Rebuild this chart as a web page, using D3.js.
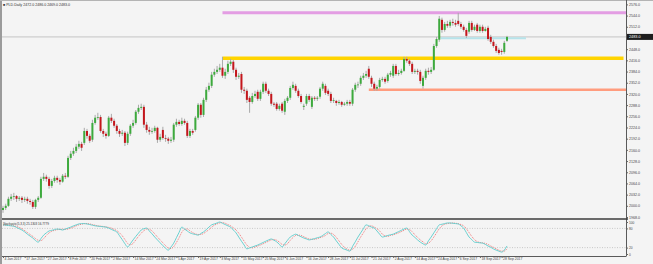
<!DOCTYPE html>
<html>
<head>
<meta charset="utf-8">
<script src="https://cdn.jsdelivr.net/npm/d3@7"></script>
<style>
  html, body { margin: 0; padding: 0; background: #f4f4f4; }
  svg { display: block; }
  text { font-family: "Liberation Sans", Arial, sans-serif; }
</style>
</head>
<body>
<script>
// Data (daily candles, 4 Jan 2017 - end of Sep 2017)
const symbol = 'PLD.Daily'
const opens = [1988,1994,2000,2020,2026,2028,2020,2023,2017,2020,
  2014,2011,1997,2017,2023,2077,2083,2077,2057,2071,
  2080,2074,2069,2086,2083,2137,2149,2157,2169,2177,
  2180,2214,2200,2189,2237,2252,2254,2214,2206,2200,
  2252,2243,2229,2214,2206,2209,2180,2206,2229,2237,
  2269,2280,2283,2232,2217,2212,2214,2223,2189,2217,
  2194,2192,2186,2189,2232,2240,2234,2243,2237,2200,
  2214,2217,2252,2289,2260,2303,2332,2343,2375,2383,
  2389,2395,2372,2383,2406,2412,2389,2369,2377,2332,
  2329,2309,2297,2314,2326,2306,2326,2349,2329,2320,
  2292,2292,2277,2292,2269,2300,2309,2337,2343,2329,
  2314,2283,2292,2314,2283,2309,2306,2312,2335,2343,
  2329,2320,2300,2300,2294,2297,2289,2292,2297,2292,
  2332,2346,2349,2366,2372,2392,2366,2349,2335,2340,
  2360,2363,2357,2375,2372,2400,2377,2380,2386,2420,
  2415,2406,2383,2386,2383,2343,2366,2386,2383,2389,
  2457,2475,2532,2503,2520,2515,2526,2523,2529,2520,
  2512,2503,2498,2523,2503,2518,2500,2512,2500,2509,
  2483,2469,2457,2446,2443,2440,2472]
const highs = [2000,2006,2026,2034,2037,2031,2028,2028,2026,2026,
  2020,2017,2020,2028,2083,2094,2089,2083,2077,2086,
  2086,2080,2091,2094,2143,2157,2166,2177,2186,2183,
  2223,2220,2206,2246,2260,2266,2260,2220,2212,2257,
  2263,2249,2234,2220,2217,2214,2212,2234,2246,2274,
  2289,2292,2289,2240,2226,2223,2229,2226,2206,2226,
  2203,2197,2197,2237,2249,2246,2252,2249,2243,2220,
  2220,2257,2294,2294,2309,2340,2352,2383,2392,2400,
  2406,2426,2392,2415,2420,2417,2395,2380,2383,2340,
  2335,2314,2323,2329,2332,2332,2355,2355,2335,2326,
  2297,2297,2292,2297,2306,2314,2343,2355,2349,2335,
  2320,2292,2320,2320,2314,2314,2314,2340,2355,2349,
  2335,2326,2309,2303,2303,2300,2297,2303,2303,2337,
  2352,2355,2372,2380,2386,2400,2372,2355,2346,2366,
  2369,2369,2380,2386,2406,2406,2389,2392,2426,2426,
  2420,2412,2392,2392,2389,2372,2392,2395,2397,2463,
  2483,2543,2538,2526,2529,2532,2535,2532,2552,2526,
  2518,2509,2529,2529,2518,2523,2518,2518,2512,2515,
  2489,2475,2463,2452,2449,2472,2486]
const lows = [1980,1988,1997,2014,2017,2011,2014,2008,2011,2006,
  2003,1991,1991,2011,2020,2071,2069,2049,2051,2066,
  2066,2060,2066,2077,2080,2131,2143,2151,2163,2157,
  2174,2192,2180,2183,2232,2246,2209,2197,2192,2197,
  2237,2223,2206,2197,2200,2171,2174,2200,2223,2232,
  2263,2274,2223,2209,2203,2206,2209,2180,2183,2189,
  2183,2177,2180,2183,2226,2229,2229,2232,2194,2194,
  2203,2212,2246,2252,2254,2297,2326,2337,2369,2377,
  2383,2366,2363,2377,2400,2380,2360,2363,2323,2320,
  2294,2266,2292,2309,2300,2300,2320,2323,2314,2286,
  2283,2272,2272,2266,2260,2294,2303,2332,2323,2309,
  2292,2274,2286,2297,2277,2300,2300,2306,2329,2317,
  2314,2294,2294,2286,2289,2283,2286,2286,2286,2286,
  2326,2337,2343,2360,2366,2363,2340,2329,2329,2335,
  2355,2349,2352,2369,2366,2372,2372,2375,2383,2409,
  2400,2377,2377,2375,2349,2335,2360,2375,2377,2386,
  2452,2469,2495,2498,2509,2509,2515,2512,2515,2506,
  2498,2480,2492,2498,2500,2495,2495,2495,2498,2472,
  2463,2452,2437,2432,2432,2435,2469]
const closes = [1994,2000,2020,2026,2028,2020,2023,2017,2020,2014,
  2011,1997,2017,2023,2077,2083,2077,2057,2071,2080,
  2074,2069,2086,2083,2137,2149,2157,2169,2177,2166,
  2214,2200,2186,2237,2252,2254,2214,2206,2200,2252,
  2243,2229,2214,2206,2209,2180,2206,2229,2237,2269,
  2280,2283,2232,2217,2212,2214,2223,2189,2197,2194,
  2192,2186,2189,2232,2240,2234,2243,2237,2200,2214,
  2209,2252,2289,2260,2303,2332,2343,2375,2383,2389,
  2395,2372,2383,2406,2412,2389,2369,2372,2332,2329,
  2303,2297,2314,2320,2306,2326,2349,2329,2320,2292,
  2289,2277,2286,2272,2300,2309,2337,2346,2329,2314,
  2297,2286,2314,2303,2309,2306,2309,2335,2349,2323,
  2320,2300,2302,2294,2297,2289,2292,2297,2292,2332,
  2346,2347,2366,2372,2377,2369,2349,2335,2340,2360,
  2363,2355,2375,2380,2400,2377,2380,2386,2420,2415,
  2406,2383,2386,2383,2357,2366,2386,2383,2389,2457,
  2477,2535,2503,2520,2515,2526,2523,2518,2520,2512,
  2503,2486,2523,2503,2512,2500,2512,2500,2506,2477,
  2469,2457,2443,2437,2440,2466,2483]

const stochMain = [91,90,89,88,87,83,79,75,69,62,
  56,50,42,37,48,59,66,72,74,76,
  78,77,75,78,81,84,88,91,94,95,
  95,94,92,90,88,87,86,85,84,81,
  77,73,69,57,45,32,22,32,44,55,
  65,75,79,81,72,63,53,44,35,26,
  18,12,22,34,51,68,84,78,72,66,
  63,61,59,64,69,76,84,91,94,97,
  100,96,92,88,84,75,66,53,40,28,
  16,19,22,25,28,32,36,40,44,47,
  43,38,30,22,32,43,53,58,62,58,
  54,50,47,44,46,48,51,53,58,64,
  69,61,53,41,30,19,15,12,9,24,
  38,53,66,79,91,88,84,81,72,62,
  53,55,58,60,62,66,70,74,78,81,
  70,59,52,44,37,32,28,41,53,66,
  79,91,93,95,97,97,96,95,94,88,
  81,67,53,45,37,36,35,34,30,25,
  21,16,12,9,6,12,25.1303]
const stochSignal = [90,90,90,89,88,86,83,79,73,67,
  61,55,48,43,42,48,58,66,71,74,
  76,77,77,77,78,81,84,88,91,93,
  95,95,94,92,90,88,87,86,85,83,
  81,77,73,66,57,45,33,29,33,44,
  55,65,73,78,77,72,63,53,44,35,
  26,19,17,23,36,51,68,77,78,72,
  67,63,61,61,64,70,76,84,90,94,
  97,98,96,92,88,82,75,65,53,40,
  28,21,19,22,25,28,32,36,40,44,
  45,43,37,30,28,32,43,51,58,59,
  58,54,50,47,46,46,48,51,54,58,
  64,65,61,52,41,30,21,15,12,15,
  24,38,53,66,79,86,88,84,79,72,
  62,57,55,58,60,63,66,70,74,78,
  76,70,60,52,44,38,32,34,41,53,
  66,79,88,93,95,96,97,96,95,92,
  88,79,67,55,45,39,36,35,33,30,
  25,21,16,12,9,9,16.7779]

// Axis labels
const priceTicks = [1968,2000,2032,2064,2096,2128,2160,2192,2224,2256,
  2288,2320,2352,2384,2416,2448,2480,2512,2544,2576]
const dateLabels = ['4 Jan 2017','17 Jan 2017','27 Jan 2017','8 Feb 2017','20 Feb 2017',
  '2 Mar 2017','14 Mar 2017','24 Mar 2017','5 Apr 2017','19 Apr 2017','3 May 2017',
  '15 May 2017','25 May 2017','6 Jun 2017','16 Jun 2017','28 Jun 2017','11 Jul 2017',
  '21 Jul 2017','2 Aug 2017','14 Aug 2017','24 Aug 2017','6 Sep 2017','18 Sep 2017','28 Sep 2017']
const stochTicks = [100, 80, 20, 0]
const stochLevels = [80, 20]

// Horizontal levels drawn on the chart (price, from bar, to bar)
const levelPrices = [2552, 2479, 2422, 2332]
const levelFrom = [81, 161.5, 81, 135]
const levelTo = [230, 193, 229, 230]
const levelColors = ['#e39de3', '#b6e3ea', '#ffd400', '#ff9c7e']
const levelWidths = [3, 2, 3.5, 2.5]

// Layout
const W = 653, H = 264
const plotL = 2, plotR = 626
const mainBottom = 218.5
const indBottom = 256

const svg = d3.select('body').append('svg')
  .attr('width', W).attr('height', H)

svg.append('rect').attr('width', W).attr('height', H).attr('fill', '#f4f4f4')
svg.append('rect').attr('x', 0).attr('y', 0).attr('width', 2).attr('height', H).attr('fill', '#9b9b9b')
svg.append('rect').attr('x', 0).attr('y', 0).attr('width', W).attr('height', 1).attr('fill', '#b4b4b4')

// Scales
const xScale = d3.scaleLinear().domain([0, closes.length - 1]).range([3, 507])
const yScale = d3.scaleLinear().domain([1968, 2576]).range([217, 4.4])
const stochY = d3.scaleLinear().domain([0, 100]).range([254, 222])

// Current price line
const last = closes.length - 1
svg.append('line')
  .attr('x1', plotL).attr('x2', plotR)
  .attr('y1', yScale(closes[last])).attr('y2', yScale(closes[last]))
  .attr('stroke', '#c4c4c4').attr('stroke-width', 1)

// Levels
svg.append('g').selectAll('line').data(levelPrices).join('line')
  .attr('x1', (d, i) => xScale(levelFrom[i]))
  .attr('x2', (d, i) => Math.min(plotR, xScale(levelTo[i])))
  .attr('y1', d => yScale(d)).attr('y2', d => yScale(d))
  .attr('stroke', (d, i) => levelColors[i])
  .attr('stroke-width', (d, i) => levelWidths[i])

// Candles
const bars = d3.range(closes.length)
svg.append('g').selectAll('line').data(bars).join('line')
  .attr('x1', i => xScale(i)).attr('x2', i => xScale(i))
  .attr('y1', i => yScale(highs[i])).attr('y2', i => yScale(lows[i]))
  .attr('stroke', '#a9a9a9').attr('stroke-width', 1)

svg.append('g').selectAll('rect').data(bars).join('rect')
  .attr('x', i => xScale(i) - 1)
  .attr('width', 2)
  .attr('y', i => yScale(Math.max(opens[i], closes[i])))
  .attr('height', i => Math.max(0.8, Math.abs(yScale(opens[i]) - yScale(closes[i]))))
  .attr('fill', i => closes[i] > opens[i] ? '#3daa3d' : (closes[i] < opens[i] ? '#c4161c' : '#888'))

// Header
svg.append('text')
  .attr('x', 3).attr('y', 5.5)
  .attr('font-size', 3.6).attr('fill', '#333')
  .text(`\u25A0 ${symbol}  ${opens[last].toFixed(1)} ${highs[last].toFixed(1)} ${lows[last].toFixed(1)} ${closes[last].toFixed(1)}`)

// Price axis
const yAxis = svg.append('g')
  .attr('transform', `translate(${plotR},0)`)
  .call(d3.axisRight(yScale).tickValues(priceTicks).tickFormat(d3.format('.1f')).tickSize(2).tickPadding(1))
yAxis.select('.domain').remove()
yAxis.selectAll('.tick')
  .filter(d => Math.abs(yScale(d) - yScale(closes[last])) < 5)
  .remove()
yAxis.selectAll('line').attr('stroke', '#666')
yAxis.selectAll('text').attr('font-size', 3.6).attr('fill', '#444')
  .attr('font-family', '"Liberation Sans", Arial, sans-serif')

svg.append('line')
  .attr('x1', plotR + 0.5).attr('x2', plotR + 0.5).attr('y1', 0).attr('y2', indBottom)
  .attr('stroke', '#5a5a5a').attr('stroke-width', 1)

// Current price box
const py = yScale(closes[last])
svg.append('rect').attr('x', plotR + 1).attr('y', py - 3).attr('width', 26).attr('height', 6).attr('fill', '#1e1e1e')
svg.append('text').attr('x', plotR + 3).attr('y', py + 1.4)
  .attr('font-size', 3.8).attr('fill', '#fff').text(closes[last].toFixed(1))

// Separator between panes
svg.append('line')
  .attr('x1', plotL).attr('x2', plotR + 2)
  .attr('y1', mainBottom + 0.5).attr('y2', mainBottom + 0.5)
  .attr('stroke', '#3c3c3c').attr('stroke-width', 1.5)

// Stochastic pane
svg.append('g').selectAll('line').data(stochLevels).join('line')
  .attr('x1', plotL).attr('x2', plotR)
  .attr('y1', d => stochY(d)).attr('y2', d => stochY(d))
  .attr('stroke', '#bdbdbd').attr('stroke-width', 0.8).attr('stroke-dasharray', '1,1.5')

const stochLine = d3.line().x((d, i) => xScale(i)).y(d => stochY(d)).curve(d3.curveMonotoneX)
svg.append('path').datum(stochSignal)
  .attr('d', stochLine).attr('fill', 'none')
  .attr('stroke', '#ef6b6b').attr('stroke-width', 0.9).attr('stroke-dasharray', '1,1')
svg.append('path').datum(stochMain)
  .attr('d', stochLine).attr('fill', 'none')
  .attr('stroke', '#5ccccc').attr('stroke-width', 0.9)

svg.append('text')
  .attr('x', 3).attr('y', 224.5)
  .attr('font-size', 3).attr('fill', '#333')
  .text(`Stochastic(5,3,3) ${stochMain[last].toFixed(4)} ${stochSignal[last].toFixed(4)}`)

const sAxis = svg.append('g')
  .attr('transform', `translate(${plotR},0)`)
  .call(d3.axisRight(stochY).tickValues(stochTicks).tickSize(2).tickPadding(1))
sAxis.select('.domain').remove()
sAxis.selectAll('line').attr('stroke', '#666')
sAxis.selectAll('text').attr('font-size', 3.2).attr('fill', '#444')
  .attr('font-family', '"Liberation Sans", Arial, sans-serif')

// Time axis
svg.append('line')
  .attr('x1', plotL).attr('x2', plotR + 0.5)
  .attr('y1', indBottom + 0.5).attr('y2', indBottom + 0.5)
  .attr('stroke', '#5a5a5a').attr('stroke-width', 1)

const xAxis = svg.append('g')
  .attr('transform', `translate(0,${indBottom})`)
  .call(d3.axisBottom(xScale)
    .tickValues(dateLabels.map((d, k) => k * 8))
    .tickFormat(i => dateLabels[i / 8])
    .tickSize(2).tickPadding(1))
xAxis.select('.domain').remove()
xAxis.selectAll('line').attr('stroke', '#666')
xAxis.selectAll('text')
  .attr('font-size', 3.4).attr('fill', '#444')
  .attr('text-anchor', 'start').attr('dx', 1).attr('dy', '0.2em')
  .attr('font-family', '"Liberation Sans", Arial, sans-serif')
</script>
</body>
</html>
